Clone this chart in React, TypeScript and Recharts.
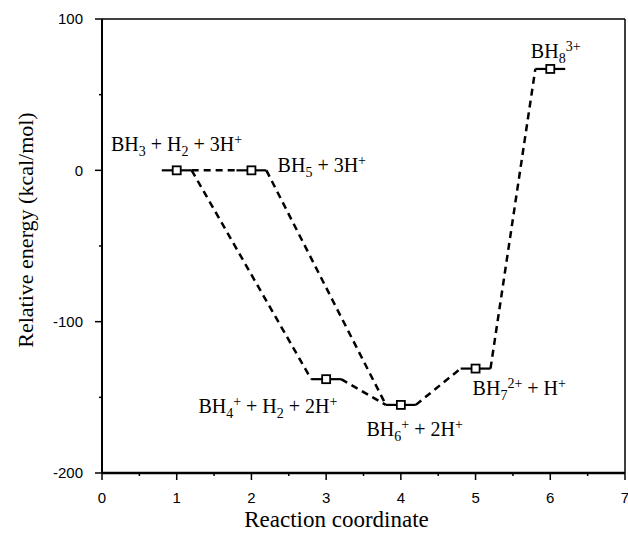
import React from 'react';
import { ComposedChart, Line, Scatter, XAxis, YAxis, ReferenceLine } from 'recharts';

// Species levels (reaction coordinate, relative energy kcal/mol)
const speciesX = [1, 2, 3, 4, 5, 6];
const speciesEnergy = [0, 0, -138, -155, -131, 67];
// Dashed connections between species (from index, to index)
const connections = [
  [0, 1],
  [0, 2],
  [1, 3],
  [2, 3],
  [3, 4],
  [4, 5],
];
// Annotation anchors (left/baseline) in data units
const labelX = [0.12, 2.35, 1.29, 3.54, 4.96, 5.74];
const labelY = [13, -1, -160.6, -175.6, -148.5, 74];
const labelParts: [string, string][][] = [
  [['BH', ''], ['3', 'sub'], [' + H', ''], ['2', 'sub'], [' + 3H', ''], ['+', 'sup']],
  [['BH', ''], ['5', 'sub'], [' + 3H', ''], ['+', 'sup']],
  [['BH', ''], ['4', 'sub'], ['+', 'sup'], [' + H', ''], ['2', 'sub'], [' + 2H', ''], ['+', 'sup']],
  [['BH', ''], ['6', 'sub'], ['+', 'sup'], [' + 2H', ''], ['+', 'sup']],
  [['BH', ''], ['7', 'sub'], ['2+', 'sup'], [' + H', ''], ['+', 'sup']],
  [['BH', ''], ['8', 'sub'], ['3+', 'sup']],
];
const xTicks = [0, 0.5, 1, 1.5, 2, 2.5, 3, 3.5, 4, 4.5, 5, 5.5, 6, 6.5, 7];
const yTicks = [-200, -150, -100, -50, 0, 50, 100];
const levelHalfWidth = 0.2;

const SERIF = '"Liberation Serif", "Times New Roman", serif';
const SANS = '"Liberation Sans", Arial, sans-serif';

const levelSeries = speciesX.map((x, i) => [
  { x: x - levelHalfWidth, y: speciesEnergy[i] },
  { x: x + levelHalfWidth, y: speciesEnergy[i] },
]);
const connectorSeries = connections.map(([a, b]) => [
  { x: speciesX[a] + levelHalfWidth, y: speciesEnergy[a] },
  { x: speciesX[b] - levelHalfWidth, y: speciesEnergy[b] },
]);
const markerData = speciesX.map((x, i) => ({ x, y: speciesEnergy[i] }));
const labelData = labelX.map((x, i) => ({ x, y: labelY[i], parts: labelParts[i] }));

const XTick = (props: any) => {
  const { x, y, payload } = props;
  const v = payload.value;
  const major = Number.isInteger(v);
  return (
    <g>
      <line x1={x} x2={x} y1={y} y2={y + (major ? 7 : 3)} stroke="#000" strokeWidth={1.5} />
      {major && (
        <text x={x} y={y + 19} dy="0.71em" textAnchor="middle" fontFamily={SANS} fontSize={15} fill="#000">
          {v}
        </text>
      )}
    </g>
  );
};

const YTick = (props: any) => {
  const { x, y, payload } = props;
  const v = payload.value;
  const major = v % 100 === 0;
  return (
    <g>
      <line x1={x - (major ? 7 : 3)} x2={x} y1={y} y2={y} stroke="#000" strokeWidth={1.5} />
      {major && (
        <text x={x - 19} y={y} dy="0.355em" textAnchor="end" fontFamily={SANS} fontSize={15} fill="#000">
          {v}
        </text>
      )}
    </g>
  );
};

const SquareMarker = (props: any) => {
  const { cx, cy } = props;
  return <rect x={cx - 4} y={cy - 4} width={8} height={8} fill="#fff" stroke="#000" strokeWidth={1.8} />;
};

const ChemLabel = (props: any) => {
  const { cx, cy, payload } = props;
  const parts: [string, string][] = payload.parts;
  let shift = 0;
  return (
    <text x={cx} y={cy} fontFamily={SERIF} fontSize={20} fill="#000" style={{ whiteSpace: 'pre' }}>
      {parts.map(([t, kind], i) => {
        const target = kind === 'sub' ? 5 : kind === 'sup' ? -7 : 0;
        const dy = target - shift;
        shift = target;
        return (
          <tspan key={i} dy={dy} fontSize={kind ? 14 : 20}>
            {t}
          </tspan>
        );
      })}
    </text>
  );
};

const XTitle = (props: any) => {
  const vb = props.viewBox;
  return (
    <text x={vb.x + vb.width / 2 - 27} y={vb.y + 54} textAnchor="middle" fontFamily={SERIF} fontSize={23} fill="#000">
      Reaction coordinate
    </text>
  );
};

const YTitle = (props: any) => {
  const vb = props.viewBox;
  const cx = vb.x + 33;
  const cy = vb.y + vb.height / 2 - 16;
  return (
    <text
      x={cx}
      y={cy}
      transform={`rotate(-90, ${cx}, ${cy})`}
      textAnchor="middle"
      fontFamily={SERIF}
      fontSize={22}
      fill="#000"
    >
      Relative energy (kcal/mol)
    </text>
  );
};

export default function App() {
  return (
    <div style={{ position: 'absolute', left: 0, top: 0, width: 628, height: 533, background: '#fff' }}>
      <ComposedChart width={628} height={533} margin={{ top: 19, right: 3, bottom: 0, left: 0 }}>
        <XAxis
          type="number"
          dataKey="x"
          domain={[0, 7]}
          ticks={xTicks}
          interval={0}
          tickSize={0}
          tickMargin={0}
          tickLine={false}
          tick={<XTick />}
          axisLine={{ stroke: '#000', strokeWidth: 2.5 }}
          height={60}
          allowDataOverflow
          label={<XTitle />}
        />
        <YAxis
          type="number"
          dataKey="y"
          domain={[-200, 100]}
          ticks={yTicks}
          interval={0}
          tickSize={0}
          tickMargin={0}
          tickLine={false}
          tick={<YTick />}
          axisLine={{ stroke: '#000', strokeWidth: 2 }}
          width={102}
          allowDataOverflow
          label={<YTitle />}
        />
        <ReferenceLine y={100} stroke="#000" strokeWidth={1.5} />
        <ReferenceLine x={7} stroke="#000" strokeWidth={1.5} />
        {connectorSeries.map((d, i) => (
          <Line
            key={`c${i}`}
            data={d}
            dataKey="y"
            stroke="#000"
            strokeWidth={2.5}
            strokeDasharray="7 5"
            dot={false}
            activeDot={false}
            isAnimationActive={false}
          />
        ))}
        {levelSeries.map((d, i) => (
          <Line
            key={`l${i}`}
            data={d}
            dataKey="y"
            stroke="#000"
            strokeWidth={2.2}
            dot={false}
            activeDot={false}
            isAnimationActive={false}
          />
        ))}
        <Scatter data={markerData} dataKey="y" shape={<SquareMarker />} isAnimationActive={false} />
        <Scatter data={labelData} dataKey="y" shape={<ChemLabel />} isAnimationActive={false} />
      </ComposedChart>
    </div>
  );
}
